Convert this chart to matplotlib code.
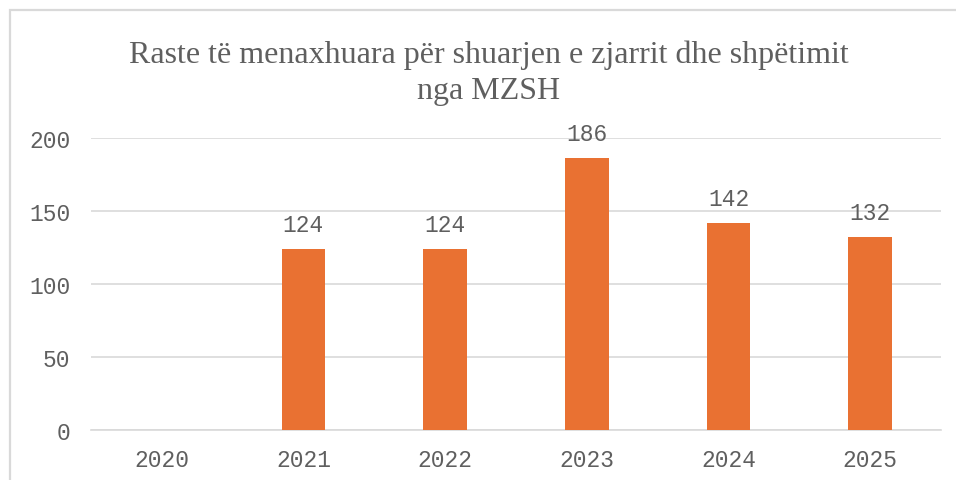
import matplotlib
matplotlib.use('Agg')
import matplotlib.pyplot as plt
from matplotlib.patches import Rectangle
import numpy as np

# data
years = ['2020', '2021', '2022', '2023', '2024', '2025']
cases = [np.nan, 124, 124, 186, 142, 132]
yticks = [0, 50, 100, 150, 200]
title = 'Raste të menaxhuara për shuarjen e zjarrit dhe shpëtimit\nnga MZSH'

W, H = 956, 481
txt = '#5f5f5f'
grid = '#D9D9D9'
orange = '#E97132'
mono = 'Liberation Mono'

fig = plt.figure(figsize=(W / 100, H / 100), dpi=100)
fig.patch.set_facecolor('white')

# chart border (runs off the right and bottom edge)
fig.patches.append(Rectangle((10 / W, -0.1), 1.2, 1 - 11 / H + 0.1,
                             transform=fig.transFigure, fill=False,
                             edgecolor=grid, linewidth=1.6))

ax = fig.add_axes([91 / W, 50 / H, 850 / W, 292 / H])
x = np.arange(len(years))
ax.bar(x, np.nan_to_num(cases), width=0.31, color=orange, zorder=3)

for xi, v in zip(x, cases):
    if np.isnan(v):
        continue
    ax.annotate(f'{v:.0f}', (xi, v), xytext=(0, 13), textcoords='offset points',
                ha='center', va='baseline', fontsize=16.5, family=mono, color=txt)

ax.set_xlim(-0.5, len(years) - 0.5)
ax.set_ylim(0, 200)
ax.set_yticks(yticks)
ax.set_xticks(x)
ax.set_xticklabels(years)
ax.yaxis.grid(True, color=grid, linewidth=1.2, zorder=0)
ax.set_axisbelow(True)
for s in ['top', 'right', 'left']:
    ax.spines[s].set_visible(False)
ax.spines['bottom'].set_color(grid)
ax.spines['bottom'].set_linewidth(1.2)
ax.tick_params(axis='both', length=0, labelsize=16.5, labelcolor=txt)
ax.tick_params(axis='y', pad=15)
ax.tick_params(axis='x', pad=13)
for lab in ax.get_xticklabels() + ax.get_yticklabels():
    lab.set_family(mono)

fig.text(489 / W, 1 - 40 / H, title, ha='center', va='top', fontsize=23,
         family='Liberation Serif', color=txt, linespacing=1.33)

fig.savefig('out.png', dpi=100)
